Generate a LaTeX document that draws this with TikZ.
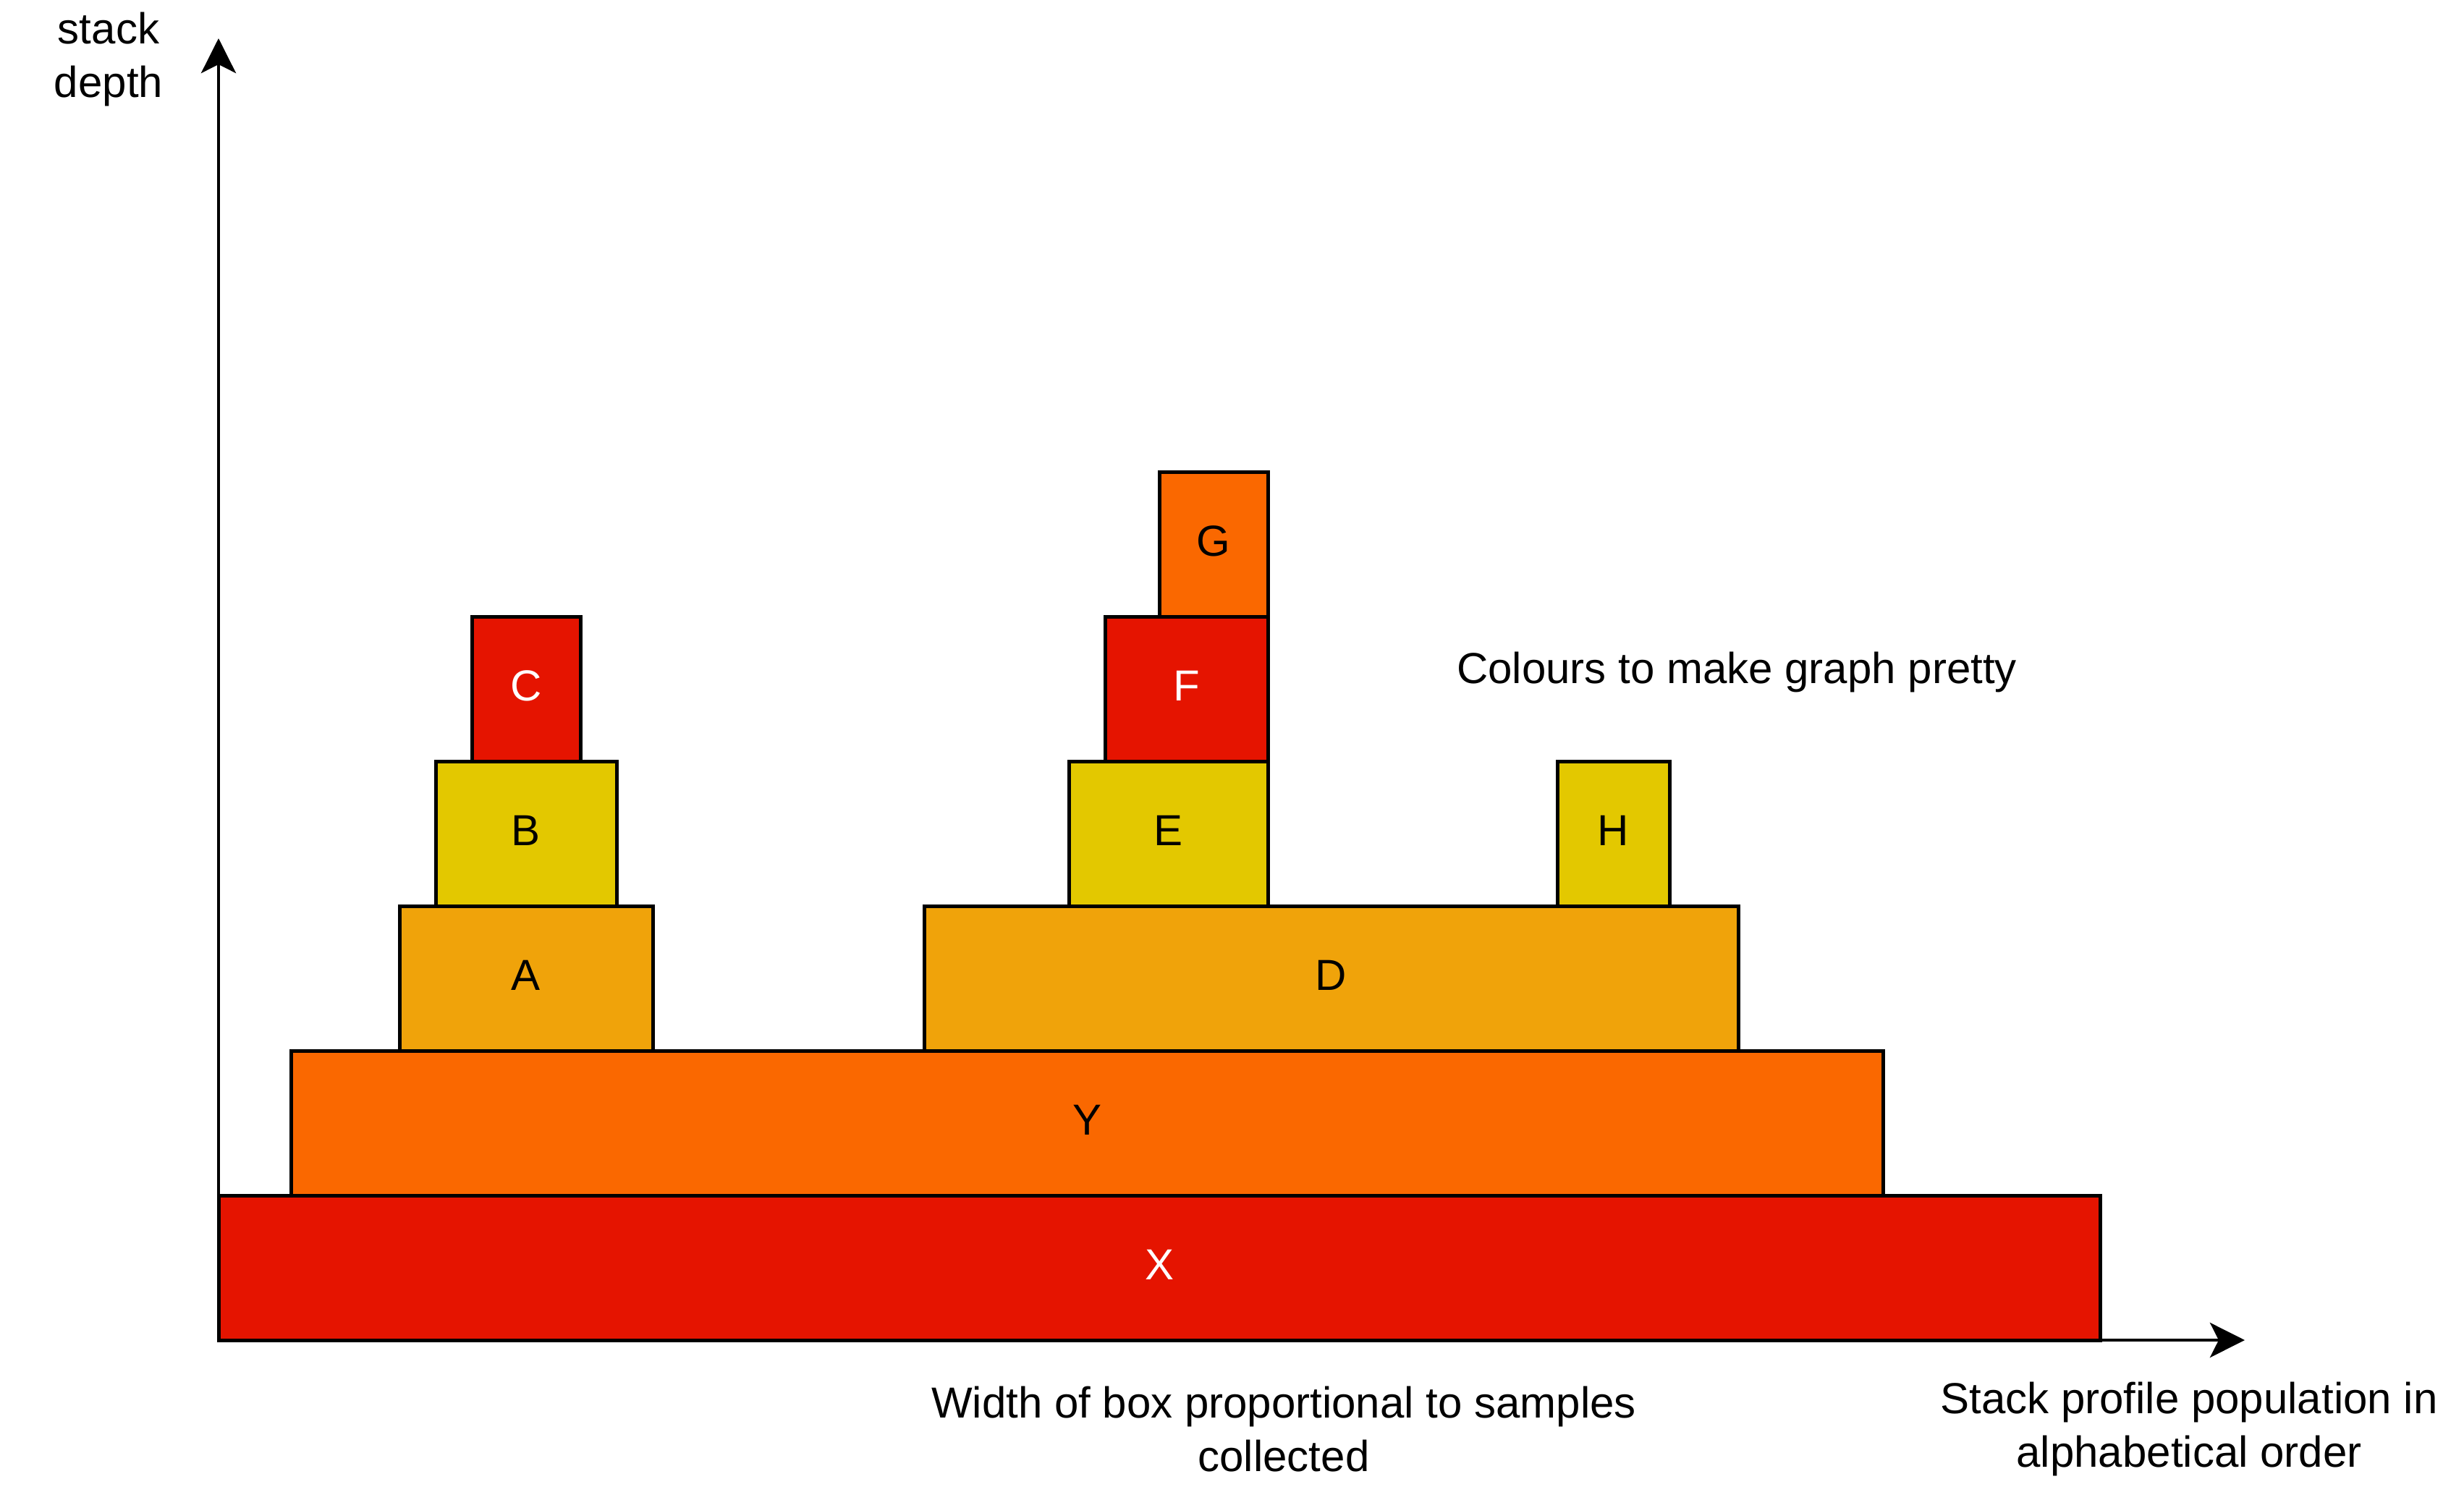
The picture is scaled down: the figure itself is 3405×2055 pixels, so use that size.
\documentclass[tikz,border=0pt]{standalone}
\usepackage{fontspec}
\setmainfont{Liberation Sans}
\usetikzlibrary{arrows.meta}
\definecolor{cRed}{HTML}{E51400}
\definecolor{cOrange}{HTML}{FA6800}
\definecolor{cAmber}{HTML}{F0A30A}
\definecolor{cYellow}{HTML}{E3C800}
\begin{document}
\begin{tikzpicture}[x=0.25pt,y=-0.25pt,
  box/.style={draw=black, line width=1.25pt, inner sep=0pt, outer sep=0pt, anchor=north west,
    minimum height=50pt, text depth=2pt, font=\fontsize{15}{18.5}\selectfont},
  lbl/.style={align=center, inner sep=0pt, font=\fontsize{15}{18.5}\selectfont},
  axis/.style={line width=1.2pt, -{Stealth[length=12pt,width=12pt,inset=3pt]}}]
\useasboundingbox (0,0) rectangle (3405,2055);
% boxes
\node[box, fill=cRed, text=white, minimum width=650pt] (X) at (302,1652) {X};
\node[box, fill=cOrange, minimum width=550pt] (Y) at (402,1452) {Y};
\node[box, fill=cAmber, minimum width=87.5pt] (A) at (552,1252) {A};
\node[box, fill=cAmber, minimum width=281.25pt] (D) at (1277,1252) {D};
\node[box, fill=cYellow, minimum width=62.5pt] (B) at (602,1052) {B};
\node[box, fill=cYellow, minimum width=68.75pt] (E) at (1477,1052) {E};
\node[box, fill=cYellow, minimum width=38.75pt] (H) at (2152,1052) {H};
\node[box, fill=cRed, text=white, minimum width=37.5pt] (C) at (652,852) {C};
\node[box, fill=cRed, text=white, minimum width=56.25pt] (F) at (1527,852) {F};
\node[box, fill=cOrange, minimum width=37.5pt] (G) at (1602,652) {G};
% axes
\coordinate (O) at (302,1852);
\coordinate (ytip) at (302,53);
\coordinate (xtip) at (3102,1852);
\draw[axis] (O) -- (ytip);
\draw[axis] (O) -- (xtip);
% labels
\node[lbl] (ylab) at (150,82) {stack\\depth};
\node[lbl] (note) at (2400,929) {Colours to make graph pretty};
\node[lbl] (wlab) at (1774,1975) {Width of box proportional to samples\\collected};
\node[lbl] (xlab) at (3025,1975) {Stack profile population in\\alphabetical order};
\end{tikzpicture}
\end{document}
